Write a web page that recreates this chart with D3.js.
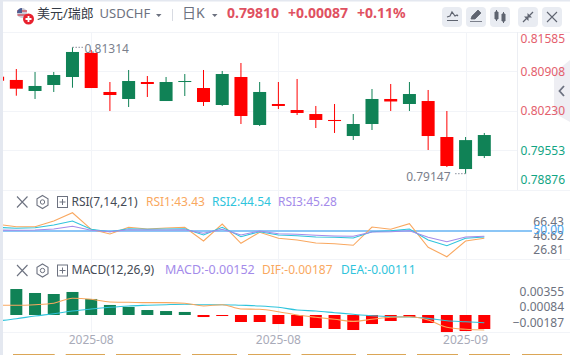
<!DOCTYPE html>
<html><head><meta charset="utf-8">
<script src="https://cdn.jsdelivr.net/npm/d3@7"></script>
<style>html,body{margin:0;padding:0;background:#fff;overflow:hidden}svg{display:block}
text{font-family:"Noto Sans","Noto Sans CJK SC",sans-serif}</style></head><body>
<svg id="c" width="570" height="355"></svg>
<script>
// Daily candles, oldest first
const opens =[.80810,.80754,.80565,.80668,.80805,.81217,.80548,.80428,.80719,.80393,.80719,.80616,.80325,.80805,.79982,.80342,.80239,.80170,.80068,.79793,.79999,.80428,.80342,.80393,.79776,.79227,.79450];
const highs =[.80891,.80942,.80891,.80891,.81314,.81268,.80719,.80925,.80822,.80805,.80856,.80925,.80908,.81045,.80719,.80719,.80771,.80308,.80342,.80170,.80599,.80685,.80719,.80582,.80222,.79776,.79845];
const lows  =[.80668,.80484,.80428,.80548,.80621,.80616,.80222,.80290,.80462,.80393,.80479,.80308,.80308,.79999,.79965,.80256,.80153,.79930,.79845,.79725,.79896,.80222,.80222,.79553,.79261,.79147,.79416];
const closes=[.80741,.80604,.80651,.80839,.81234,.80616,.80496,.80736,.80685,.80719,.80736,.80376,.80856,.80136,.80548,.80308,.80188,.80068,.80050,.79999,.80428,.80385,.80513,.79793,.79279,.79723,.79810];
const rsi1=[56.04,53.87,53.87,59.01,66.43,51.53,47.30,53.33,51.80,52.70,53.33,40.99,56.31,38.92,48.83,43.42,41.89,39.19,38.56,37.12,53.60,51.53,56.58,35.32,26.81,40.99,43.43];
const rsi2=[53.33,52.43,52.97,55.41,59.01,51.53,49.37,52.07,51.53,51.80,52.07,46.40,53.33,44.86,49.37,46.40,45.77,44.59,44.32,43.69,49.37,50.27,51.80,41.89,36.76,43.42,44.54];
const rsi3=[50.90,50.63,50.90,51.80,54.23,50.63,49.37,51.17,50.90,50.90,51.17,47.93,51.53,46.40,50.00,47.57,47.03,46.13,45.50,45.23,49.10,49.37,50.27,44.32,40.36,44.59,45.28];
const macd=[null,.00282,.00239,.00228,.00250,.00174,.00109,.00087,.00054,.00043,.00033,-.00022,-.00011,-.00076,-.00076,-.00098,-.00119,-.00141,-.00152,-.00163,-.00098,-.00065,-.00022,-.00087,-.00185,-.00174,-.00152];
const dif=[.00070,.00070,.00076,.00091,.00143,.00132,.00104,.00101,.00097,.00097,.00091,.00063,.00076,.00031,.00028,.00003,-.00031,-.00055,-.00076,-.00097,-.00076,-.00055,-.00049,-.00083,-.00159,-.00180,-.00187];
const dea=[-.00094,-.00070,-.00042,-.00018,.00010,.00031,.00049,.00063,.00070,.00076,.00080,.00076,.00076,.00070,.00063,.00049,.00021,.00010,-.00007,-.00024,-.00039,-.00049,-.00052,-.00066,-.00091,-.00101,-.00111];
const priceTicks=[.81585,.80908,.80230,.79553,.78876];
const rsiTicks=[66.43,46.62,26.81];
const macdTicks=[.00355,.00084,-.00187];
const timeTicks=[{i:5,t:"2025-08"},{i:15,t:"2025-08"},{i:25,t:"2025-09"}];
const tabs=[[13,54.7],[65.7,105],[116,180.6],[192,237],[248,290.5],[301.5,356],[367,406],[417,458],[469,510],[522,562]];

const UP="#108256",DOWN="#ff0000",ORANGE="#f9a860",CYAN="#2fc4dc",PURPLE="#a48bea",GRAY="#6d7280",GRID="#f2f4f8";
const svg=d3.select("#c");
const idx=d3.range(closes.length);
const x=d3.scaleLinear().domain([0,26]).range([-2.4,484.3]);
const y=d3.scaleLinear().domain([.78876,.81585]).range([189.5,31.5]);
const yRsi=d3.scaleLinear().domain([50,26.81]).range([231,256.74]);
const yRsiLab=d3.scaleLinear().domain([26.81,66.43]).range([250.7,223]);
const yBar=d3.scaleLinear().domain([0,-.00152]).range([315,329]);
const yLine=d3.scaleLinear().domain([0,-.00187]).range([312,330]);
const yMacdLab=d3.scaleLinear().domain([-.00187,.00355]).range([323.3,292.7]);

svg.append("defs").append("clipPath").attr("id","pl").append("rect").attr("x",3).attr("y",0).attr("width",567).attr("height",355);

// frame + grid
const grid=svg.append("g").attr("stroke",GRID).attr("stroke-width",1).attr("shape-rendering","crispEdges");
[32,190,259,332].forEach(v=>grid.append("line").attr("x1",3).attr("x2",570).attr("y1",v+.5).attr("y2",v+.5));
priceTicks.slice(1,4).forEach(p=>grid.append("line").attr("x1",3).attr("x2",517).attr("y1",Math.round(y(p))+.5).attr("y2",Math.round(y(p))+.5));
timeTicks.forEach(d=>{const px=Math.round(x(d.i))+.5;grid.append("line").attr("x1",px).attr("x2",px).attr("y1",32).attr("y2",332);});
grid.append("line").attr("x1",517.5).attr("x2",517.5).attr("y1",32).attr("y2",190).attr("stroke","#eceef3");
svg.append("rect").attr("x",0).attr("y",0).attr("width",3).attr("height",355).attr("fill","#e4e8f0");
svg.append("rect").attr("x",0).attr("y",0).attr("width",570).attr("height",1.5).attr("fill","#e4e8f0");

const plot=svg.append("g").attr("clip-path","url(#pl)");
// candles
const col=i=>closes[i]>=opens[i]?UP:DOWN;
plot.append("g").selectAll("line").data(idx).join("line")
 .attr("x1",i=>x(i)).attr("x2",i=>x(i)).attr("y1",i=>y(highs[i])).attr("y2",i=>y(lows[i]))
 .attr("stroke",col).attr("stroke-width",1);
plot.append("g").selectAll("rect").data(idx).join("rect")
 .attr("x",i=>x(i)-6.5).attr("width",13)
 .attr("y",i=>y(Math.max(opens[i],closes[i])))
 .attr("height",i=>Math.max(1,Math.abs(y(opens[i])-y(closes[i]))))
 .attr("fill",col);

// hi/lo annotations
function mark(i,val,txt,side){
  const px=x(i),py=y(val);
  const g=svg.append("g");
  g.append("line").attr("x1",px).attr("x2",px+side*11).attr("y1",py).attr("y2",py).attr("stroke","#8a8f9c").attr("stroke-dasharray","1.5 1.5");
  g.append("text").attr("x",px+side*(side>0?12:15)).attr("y",py+(side>0?2:4)).attr("dominant-baseline","middle").attr("text-anchor",side>0?"start":"end")
   .attr("font-size",12).attr("fill","#7b7f8c").text(txt);
}
const iHi=d3.maxIndex(highs),iLo=d3.minIndex(lows);
mark(iHi,highs[iHi],d3.format(".5f")(highs[iHi]),1);
mark(iLo,lows[iLo],d3.format(".5f")(lows[iLo]),-1);

// RSI
plot.append("line").attr("x1",3).attr("x2",532).attr("y1",yRsi(50)).attr("y2",yRsi(50)).attr("stroke","#8cc6f6").attr("stroke-width",2);
const ln=(arr,sc)=>d3.line().x((d,i)=>x(i)).y(d=>sc(d))(arr);
[[rsi1,ORANGE],[rsi2,CYAN],[rsi3,PURPLE]].forEach(([a,c])=>plot.append("path").attr("d",ln(a,yRsi)).attr("fill","none").attr("stroke",c).attr("stroke-width",1.1));

// MACD
plot.append("g").selectAll("rect").data(idx.filter(i=>macd[i]!==null)).join("rect")
 .attr("x",i=>x(i)-6).attr("width",12)
 .attr("y",i=>Math.min(yBar(macd[i]),yBar(0)))
 .attr("height",i=>Math.abs(yBar(macd[i])-yBar(0)))
 .attr("fill",i=>macd[i]>=0?UP:DOWN);
const curve=(arr)=>d3.line().x((d,i)=>x(i)).y(d=>yLine(d)).curve(d3.curveMonotoneX)(arr);
plot.append("path").attr("d",curve(dea)).attr("fill","none").attr("stroke",CYAN).attr("stroke-width",1.1);
plot.append("path").attr("d",curve(dif)).attr("fill","none").attr("stroke",ORANGE).attr("stroke-width",1.1);

// side panel tab
svg.append("path").attr("d","M570 60L554 73V113L570 122Z").attr("fill","#eeeef3");
svg.append("path").attr("d","M564 86L559.5 91L564 96").attr("fill","none").attr("stroke","#6d7280").attr("stroke-width",1.8);

// axes labels
const fmt5=d3.format(".5f"),fmt2=d3.format(".2f");
const lab=(xx,yy,t,c,o={})=>svg.append("text").attr("x",xx).attr("y",yy).attr("dominant-baseline","middle")
  .attr("text-anchor",o.a||"start").attr("font-size",o.s||12).attr("font-weight",o.w||400).attr("fill",c).text(t);
priceTicks.forEach((p,i)=>lab(565,Math.max(39.3,Math.min(180.7,y(p)+1.6)),fmt5(p),i<3?"#e4606d":"#12a584",{a:"end"}));
rsiTicks.forEach(v=>lab(564,yRsiLab(v),fmt2(v),GRAY,{a:"end"}));
lab(564,yRsi(50),"50.00","#4ba6ee",{a:"end"});
macdTicks.forEach(v=>lab(564,yMacdLab(v),fmt5(v),GRAY,{a:"end"}));
timeTicks.forEach(d=>lab(x(d.i),341,d.t,"#a9abb9",{a:"middle"}));
svg.append("g").selectAll("rect").data(tabs).join("rect").attr("x",d=>d[0]).attr("width",d=>d[1]-d[0]).attr("y",354).attr("height",1).attr("fill","#dba656");

// header
lab(37,14.5,"美元/瑞郎","#333a45",{s:13});
lab(99.5,15,"USDCHF",GRAY,{s:13});
lab(182,14.5,"日K",GRAY,{s:14});
lab(227,14.5,"0.79810","#df5161",{s:14,w:700});
lab(288,14.5,"+0.00087","#df5161",{s:14,w:700});
lab(357,14.5,"+0.11%","#df5161",{s:14,w:700});
svg.append("path").attr("d","M156 14h5.5l-2.75 3zM212 14h5.5l-2.75 3z").attr("fill",GRAY);
svg.append("line").attr("x1",172.5).attr("x2",172.5).attr("y1",9).attr("y2",21).attr("stroke","#d8dbe2");
// flag
svg.append("circle").attr("cx",22).attr("cy",13).attr("r",5).attr("fill","#c9cbd6");
svg.append("path").attr("d","M17 11h10M17.5 15h9").attr("stroke","#d05a68").attr("stroke-width",1.6);
svg.append("path").attr("d","M17 13a5 5 0 0 1 5-5v5z").attr("fill","#4d5d92");
svg.append("circle").attr("cx",28.5).attr("cy",19).attr("r",5.5).attr("fill","#e8212e");
svg.append("path").attr("d","M25.5 19h6M28.5 16v6").attr("stroke","#fff").attr("stroke-width",1.8);

// toolbar
[442,466,490,518,542].forEach(bx=>svg.append("rect").attr("x",bx).attr("y",7).attr("width",20).attr("height",20).attr("rx",4).attr("fill","#e9ecf2"));
const ink="#5f6470";
svg.append("path").attr("d","M447 17l3-1 2-4 3 4 2-1 1 1M447 20.5h11").attr("fill","none").attr("stroke",ink).attr("stroke-width",1.2);
svg.append("path").attr("d","M471 19l1-3 6-6 3 3-6 6zM470 21.5h12").attr("fill",ink).attr("stroke",ink).attr("stroke-width",.8);
svg.append("path").attr("d","M495 12h3v7h-3zM502 14h3v7h-3zM496.5 10v11M503.5 12v11").attr("fill",ink).attr("stroke",ink).attr("stroke-width",1);
svg.append("path").attr("d","M523 22l4.5-4.5M533 12l-4.5 4.5").attr("stroke",ink).attr("stroke-width",1.3);
svg.append("path").attr("d","M524 16.5h4.5v4.5zM532 17.5h-4.5v-4.5z").attr("fill",ink);
svg.append("path").attr("d","M547 12l10 10M557 12l-10 10").attr("stroke",ink).attr("stroke-width",1.1);

// indicator rows
function rowIcons(cy){
  svg.append("path").attr("d",`M17 ${cy-5.5}l10.5 11M27.5 ${cy-5.5}l-10.5 11`).attr("stroke",GRAY).attr("stroke-width",1.1);
  svg.append("path").attr("d",`M42.5 ${cy-6.5}l5.5 3.2v6.6l-5.5 3.2l-5.5-3.2v-6.6z`).attr("fill","none").attr("stroke",GRAY).attr("stroke-width",1.1);
  svg.append("circle").attr("cx",42.5).attr("cy",cy).attr("r",2.2).attr("fill","none").attr("stroke",GRAY);
  svg.append("rect").attr("x",57.5).attr("y",cy-5.5).attr("width",10).attr("height",11).attr("fill","none").attr("stroke",GRAY);
  svg.append("path").attr("d",`M59.5 ${cy}h6M62.5 ${cy-3}v6`).attr("stroke",GRAY);
}
rowIcons(202); rowIcons(270.5);
lab(71.5,203,"RSI(7,14,21)","#444a55");
lab(146,203,"RSI1:43.43",ORANGE);
lab(212,203,"RSI2:44.54",CYAN);
lab(278,203,"RSI3:45.28",PURPLE);
lab(71.5,271,"MACD(12,26,9)","#444a55");
lab(165,271,"MACD:-0.00152",PURPLE,{s:12.5});
lab(262,271,"DIF:-0.00187",ORANGE);
lab(341,271,"DEA:-0.00111",CYAN);
</script>
</body></html>
